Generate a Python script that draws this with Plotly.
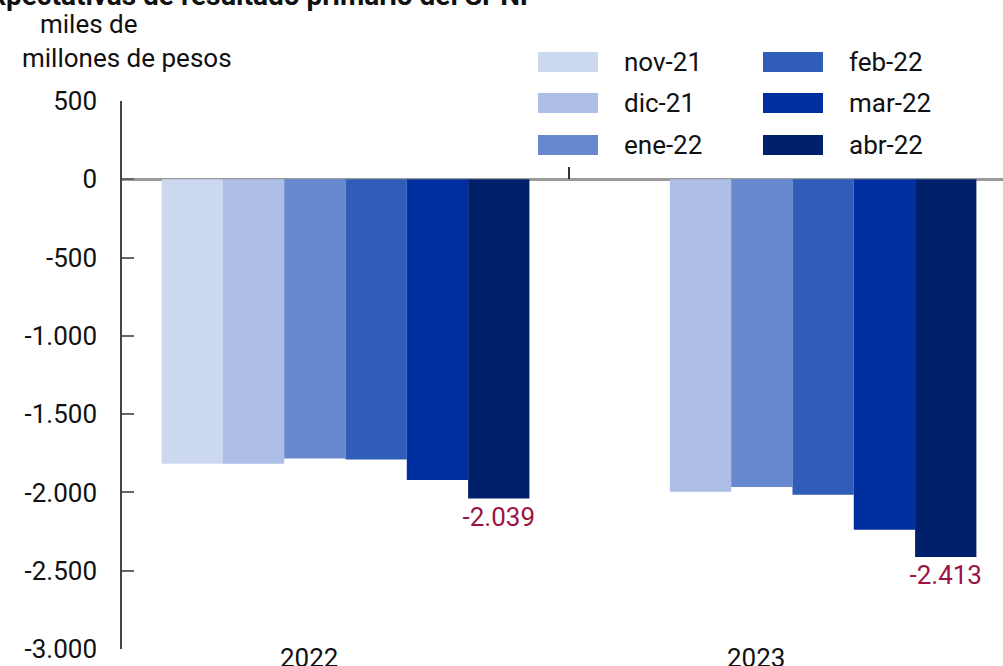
import plotly.graph_objects as go

# ---- data ----
years = ["2022", "2023"]
series_names = ["nov-21", "dic-21", "ene-22", "feb-22", "mar-22", "abr-22"]
series_colors = ["#CCD8EF", "#ADBFE6", "#6889CE", "#2F5DB8", "#0030A0", "#00206B"]
values = {
    "nov-21": [-1817, None],
    "dic-21": [-1817, -1996],
    "ene-22": [-1784, -1965],
    "feb-22": [-1790, -2015],
    "mar-22": [-1920, -2239],
    "abr-22": [-2039, -2413],
}
y_ticks = [500, 0, -500, -1000, -1500, -2000, -2500, -3000]
y_tick_labels = ["500", "0", "-500", "-1.000", "-1.500", "-2.000", "-2.500", "-3.000"]
label_color = "#9B1445"
font_family = "Roboto"
FS = 26

W, H = 1003, 666
L, R, T, B = 122, 0, 101, 17
pw, ph = W - L - R, H - T - B


def px_x(px):
    return (px - L) / pw


def px_y(py):
    return (H - B - py) / ph


def fmt(v):
    return None if v is None else f"{v:,}".replace(",", ".")


fig = go.Figure()
for name, color in zip(series_names, series_colors):
    is_last = name == series_names[-1]
    fig.add_trace(go.Bar(
        x=years, y=values[name], name=name,
        marker=dict(color=color, line=dict(width=0)),
        text=[fmt(v) for v in values[name]] if is_last else None,
        textposition="outside" if is_last else "none",
        textfont=dict(color=label_color, size=FS, family=font_family),
        constraintext="none",
        cliponaxis=False,
        showlegend=False,
    ))

# dummy trace for boundary tick axis
fig.add_trace(go.Scatter(x=[None], y=[None], xaxis="x2", yaxis="y", showlegend=False, hoverinfo="skip"))

fig.update_layout(
    width=W, height=H,
    margin=dict(l=L, r=R, t=T, b=B, pad=0),
    paper_bgcolor="white", plot_bgcolor="white",
    barmode="group", bargap=0.177, bargroupgap=0,
    separators=",.",
    font=dict(family=font_family, size=FS, color="#111"),
    xaxis=dict(type="category", range=[-0.5, 1.471], showticklabels=False, ticks="",
               showline=False, showgrid=False, zeroline=False),
    xaxis2=dict(type="linear", range=[-0.5, 1.471], overlaying="x", anchor="free",
                position=3000 / 3500, side="top", ticks="outside", ticklen=12, tickwidth=1.5,
                tickcolor="#333", tickvals=[0.5], showticklabels=False, showline=False,
                showgrid=False, zeroline=False),
    yaxis=dict(range=[-3000, 500], tickvals=y_ticks, ticktext=y_tick_labels, ticks="inside",
               ticklen=12, tickcolor="#666", tickwidth=1.5, showline=True,
               linecolor="#444", linewidth=1.5, showgrid=False, zeroline=True,
               zerolinecolor="#9a9a9a", zerolinewidth=2.5, ticklabelstandoff=18,
               tickfont=dict(size=FS, color="#111")),
)

anns = []
# category labels
for i, yr in enumerate(years):
    anns.append(dict(x=i, xref="x", y=0, yref="paper", yanchor="top", yshift=8,
                     xshift=-36, text=yr, showarrow=False, font=dict(size=FS, color="#111")))
# unit label
anns.append(dict(x=px_x(38), xref="paper", xanchor="left", y=px_y(24), yref="paper",
                 yanchor="middle", text="miles de", showarrow=False))
anns.append(dict(x=px_x(20), xref="paper", xanchor="left", y=px_y(58), yref="paper",
                 yanchor="middle", text="millones de pesos", showarrow=False))
# cut-off title
anns.append(dict(x=px_x(537), xref="paper", xanchor="right", y=px_y(-5), yref="paper",
                 yanchor="middle", text="<b>Expectativas de resultado primario del SPNF</b>",
                 showarrow=False, font=dict(size=28, color="#111")))

# custom legend
shapes = []
col_x = [538, 763]
row_y = [62, 103, 145]
for k, (name, color) in enumerate(zip(series_names, series_colors)):
    c, r = divmod(k, 3)
    x0 = col_x[c]
    yc = row_y[r]
    shapes.append(dict(type="rect", xref="paper", yref="paper",
                       x0=px_x(x0), x1=px_x(x0 + 60), y0=px_y(yc + 10), y1=px_y(yc - 10),
                       fillcolor=color, line=dict(width=0)))
    anns.append(dict(x=px_x(x0 + 84), xref="paper", xanchor="left", y=px_y(yc), yref="paper",
                     yanchor="middle", text=name, showarrow=False))

fig.update_layout(annotations=anns, shapes=shapes)
fig.write_html("out.html")
